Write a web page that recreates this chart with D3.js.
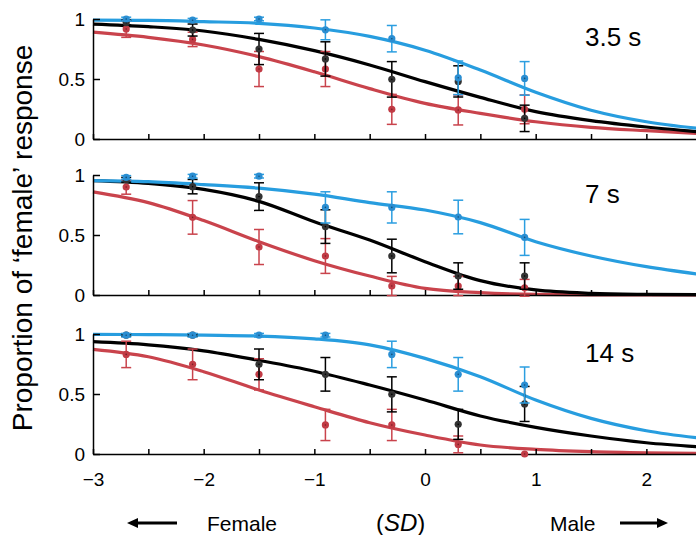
<!DOCTYPE html>
<html>
<head>
<meta charset="utf-8">
<script src="https://cdn.jsdelivr.net/npm/d3@7"></script>
<style>
  html, body { margin: 0; padding: 0; background: #fff; }
  svg { display: block; font-family: "Liberation Sans", Arial, sans-serif; }
</style>
</head>
<body>
<svg id="chart" width="696" height="535"></svg>
<script>
// ---------- DATA ----------
const panelLabels = ["3.5 s", "7 s", "14 s"];
const dataX = [-2.7, -2.1, -1.5, -0.9, -0.3, 0.3, 0.9];
const fitX  = [-3, -2.5, -2, -1.5, -1, -0.5, 0, 0.5, 1, 1.5, 2, 2.5];
const xTickValues = [-3, -2.5, -2, -1.5, -1, -0.5, 0, 0.5, 1, 1.5, 2, 2.5];
const xTickLabels = ["\u22123", "", "\u22122", "", "\u22121", "", "0", "", "1", "", "2", ""];
const yTickValues = [0, 0.5, 1];
const yTickLabels = ["0", "0.5", "1"];

// 3.5 s
const red35   = [0.917, 0.83, 0.583, 0.583, 0.247, 0.242, 0.247];
const red35E  = [0.07, 0.06, 0.146, 0.146, 0.125, 0.125, 0.12];
const black35 = [0.97, 0.908, 0.75, 0.667, 0.497, 0.48, 0.172];
const black35E= [0.02, 0.05, 0.13, 0.143, 0.148, 0.13, 0.11];
const blue35  = [1.0, 0.99, 1.0, 0.91, 0.836, 0.51, 0.505];
const blue35E = [0.015, 0.015, 0.015, 0.083, 0.11, 0.14, 0.14];
const red35Fit   = [0.89, 0.847, 0.783, 0.686, 0.56, 0.42, 0.297, 0.214, 0.144, 0.097, 0.069, 0.045];
const black35Fit = [0.958, 0.936, 0.90, 0.83, 0.736, 0.617, 0.478, 0.347, 0.228, 0.153, 0.10, 0.058];
const blue35Fit  = [0.99, 0.988, 0.978, 0.964, 0.925, 0.855, 0.74, 0.575, 0.39, 0.24, 0.144, 0.085];

// 7 s
const red7   = [0.9, 0.647, 0.40, 0.325, 0.075, 0.075, 0.06];
const red7E  = [0.06, 0.14, 0.146, 0.145, 0.08, 0.08, 0.07];
const black7 = [0.96, 0.903, 0.82, 0.57, 0.325, 0.158, 0.158];
const black7E= [0.02, 0.06, 0.115, 0.14, 0.14, 0.11, 0.11];
const blue7  = [0.98, 0.99, 0.99, 0.73, 0.73, 0.65, 0.48];
const blue7E = [0.015, 0.015, 0.015, 0.13, 0.13, 0.14, 0.15];
const red7Fit   = [0.86, 0.77, 0.62, 0.444, 0.286, 0.158, 0.055, 0.02, 0.005, 0.001, 0, 0];
const black7Fit = [0.953, 0.93, 0.88, 0.78, 0.61, 0.458, 0.278, 0.12, 0.042, 0.014, 0.005, 0.002];
const blue7Fit  = [0.953, 0.944, 0.92, 0.89, 0.84, 0.77, 0.708, 0.603, 0.444, 0.325, 0.236, 0.17];

// 14 s
const red14   = [0.83, 0.747, 0.664, 0.242, 0.242, 0.08, 0.0];
const red14E  = [0.11, 0.128, 0.13, 0.13, 0.13, 0.07, 0.0];
const black14 = [0.99, 0.99, 0.747, 0.664, 0.497, 0.247, 0.417];
const black14E= [0.01, 0.01, 0.128, 0.14, 0.146, 0.125, 0.146];
const blue14  = [0.99, 0.99, 0.99, 0.99, 0.83, 0.664, 0.575];
const blue14E = [0.015, 0.015, 0.015, 0.015, 0.11, 0.14, 0.15];
const red14Fit   = [0.872, 0.81, 0.686, 0.533, 0.394, 0.261, 0.158, 0.075, 0.039, 0.02, 0.01, 0.005];
const black14Fit = [0.936, 0.91, 0.86, 0.78, 0.69, 0.575, 0.45, 0.317, 0.222, 0.15, 0.094, 0.058];
const blue14Fit  = [0.997, 0.995, 0.99, 0.983, 0.96, 0.91, 0.797, 0.644, 0.45, 0.297, 0.194, 0.13];

// ---------- STYLE ----------
const colors = {
  red:   { line: "#c9434c", err: "#c9434c", pt: "#c13b45", dot: "#7a1f26" },
  black: { line: "#000000", err: "#000000", pt: "#333333", dot: "#000000" },
  blue:  { line: "#279ddf", err: "#2b9ee0", pt: "#2a8ed2", dot: "#14507a" }
};

const panels = [
  { label: panelLabels[0], y0: 139, series: [
    { c: "red", v: red35, e: red35E, fit: red35Fit },
    { c: "black", v: black35, e: black35E, fit: black35Fit },
    { c: "blue", v: blue35, e: blue35E, fit: blue35Fit } ], labelY: 46 },
  { label: panelLabels[1], y0: 295, series: [
    { c: "red", v: red7, e: red7E, fit: red7Fit },
    { c: "black", v: black7, e: black7E, fit: black7Fit },
    { c: "blue", v: blue7, e: blue7E, fit: blue7Fit } ], labelY: 203 },
  { label: panelLabels[2], y0: 454, series: [
    { c: "red", v: red14, e: red14E, fit: red14Fit },
    { c: "black", v: black14, e: black14E, fit: black14Fit },
    { c: "blue", v: blue14, e: blue14E, fit: blue14Fit } ], labelY: 362 }
];

const svg = d3.select("#chart");
const x = d3.scaleLinear().domain([-3, 2.5]).range([93, 701.7]);
const panelH = 120;

panels.forEach((p, pi) => {
  const y = d3.scaleLinear().domain([0, 1]).range([p.y0, p.y0 - panelH]);
  const g = svg.append("g");

  // curves
  const line = d3.line().x(d => x(d[0])).y(d => y(d[1])).curve(d3.curveMonotoneX);
  p.series.forEach(s => {
    g.append("path")
      .datum(fitX.map((xx, i) => [xx, s.fit[i]]))
      .attr("d", line)
      .attr("fill", "none")
      .attr("stroke", colors[s.c].line)
      .attr("stroke-width", 3.2)
      .attr("stroke-linejoin", "round");
  });

  // axes
  const xAxis = d3.axisBottom(x).tickValues(xTickValues)
    .tickSize(-5).tickSizeOuter(0).tickPadding(19)
    .tickFormat((d, i) => pi === 2 ? xTickLabels[i] : "");
  const gx = g.append("g").attr("transform", `translate(0,${p.y0})`).call(xAxis);
  const yAxis = d3.axisLeft(y).tickValues(yTickValues)
    .tickSize(-7).tickSizeOuter(0).tickPadding(8)
    .tickFormat((d, i) => yTickLabels[i]);
  const gy = g.append("g").attr("transform", `translate(${x(-3)},0)`).call(yAxis);
  [gx, gy].forEach(a => {
    a.selectAll("path.domain").attr("stroke", "#000").attr("stroke-width", 1.5);
    a.selectAll(".tick line").attr("stroke", "#000").attr("stroke-width", 1.5);
    a.selectAll(".tick text").attr("fill", "#000")
      .style("font-family", "'Liberation Sans', Arial, sans-serif")
      .style("font-size", "19px");
  });

  // error bars + points
  p.series.forEach(s => {
    const col = colors[s.c];
    const eg = g.append("g");
    dataX.forEach((xx, i) => {
      const v = s.v[i], e = s.e[i];
      if (e > 0) {
        eg.append("line").attr("x1", x(xx)).attr("x2", x(xx))
          .attr("y1", y(v + e)).attr("y2", y(v - e))
          .attr("stroke", col.err).attr("stroke-width", 1.5);
        [v + e, v - e].forEach(cv => {
          eg.append("line").attr("x1", x(xx) - 5).attr("x2", x(xx) + 5)
            .attr("y1", y(cv)).attr("y2", y(cv))
            .attr("stroke", col.err).attr("stroke-width", 1.5);
        });
      }
    });
    eg.selectAll("circle.pt").data(dataX).join("circle")
      .attr("class", "pt")
      .attr("cx", d => x(d)).attr("cy", (d, i) => y(s.v[i]))
      .attr("r", 3.6).attr("fill", col.pt);
    eg.selectAll("circle.dot").data(dataX).join("circle")
      .attr("class", "dot")
      .attr("cx", d => x(d)).attr("cy", (d, i) => y(s.v[i]))
      .attr("r", 0.8).attr("fill", col.dot);
  });

  // panel label
  svg.append("text").attr("x", 585).attr("y", p.labelY)
    .attr("font-size", 26).attr("fill", "#000").text(p.label);
});

// y axis title
svg.append("text")
  .attr("transform", "translate(32,238) rotate(-90)")
  .attr("text-anchor", "middle")
  .attr("font-size", 28)
  .attr("fill", "#000")
  .text("Proportion of \u2018female\u2019 response");

// bottom labels
const bottomY = 531;
svg.append("text").attr("x", 207).attr("y", bottomY).attr("font-size", 21).text("Female");
svg.append("text").attr("x", 550).attr("y", bottomY).attr("font-size", 21).text("Male");
const sd = svg.append("text").attr("x", 376).attr("y", bottomY).attr("font-size", 24);
sd.append("tspan").text("(");
sd.append("tspan").attr("font-style", "italic").text("SD");
sd.append("tspan").text(")");

// arrows
function arrow(x1, x2, yy) {
  const dir = Math.sign(x2 - x1);
  svg.append("line").attr("x1", x1).attr("x2", x2 - dir * 8).attr("y1", yy).attr("y2", yy)
    .attr("stroke", "#000").attr("stroke-width", 3);
  svg.append("path")
    .attr("d", `M${x2},${yy} L${x2 - dir * 11},${yy - 5} L${x2 - dir * 11},${yy + 5} Z`)
    .attr("fill", "#000");
}
arrow(177, 127, 523);
arrow(620, 668, 523);
</script>
</body>
</html>
